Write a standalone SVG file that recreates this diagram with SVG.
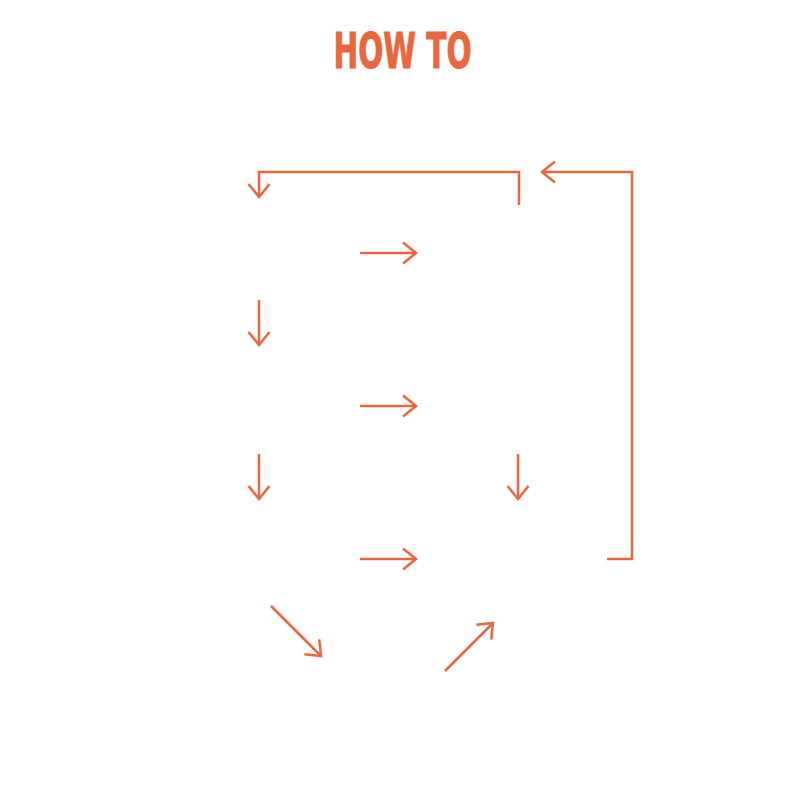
<svg xmlns="http://www.w3.org/2000/svg" width="800" height="800" viewBox="0 0 800 800">
<style>
.c{fill:none;stroke:#E8673C;stroke-width:2.5;}
.t{font-family:"Liberation Sans Narrow","DejaVu Sans Condensed","Liberation Sans",sans-serif;font-weight:bold;fill:#E8673C;stroke:#E8673C;stroke-width:1;}
</style>
<defs>
<marker id="ah" markerUnits="userSpaceOnUse" markerWidth="30" markerHeight="30" viewBox="-15 -15 30 30" refX="0" refY="0" orient="auto" overflow="visible">
<path d="M-13,-10.5 L0,0 L-13,10.5" fill="none" stroke="#E8673C" stroke-width="2.5"/>
</marker>
</defs>
<rect width="800" height="800" fill="#ffffff"/>
<g id="title">
<text class="t" x="402.5" y="68" font-size="50" text-anchor="middle" textLength="138" lengthAdjust="spacingAndGlyphs">HOW TO</text>
</g>
<g id="connectors">
<path class="c" d="M519,205 L519,172 L259,172 L259,197" marker-end="url(#ah)"/>
<path class="c" d="M360,253 L416,253" marker-end="url(#ah)"/>
<path class="c" d="M259,300 L259,345" marker-end="url(#ah)"/>
<path class="c" d="M360,406 L416,406" marker-end="url(#ah)"/>
<path class="c" d="M259,454 L259,499" marker-end="url(#ah)"/>
<path class="c" d="M518,454 L518,499" marker-end="url(#ah)"/>
<path class="c" d="M360,559 L416,559" marker-end="url(#ah)"/>
<path class="c" d="M607,559 L632,559 L632,172 L542,172" marker-end="url(#ah)"/>
<path class="c" d="M271,606 L321,656" marker-end="url(#ah)"/>
<path class="c" d="M445,671 L493,623" marker-end="url(#ah)"/>
</g>
</svg>
